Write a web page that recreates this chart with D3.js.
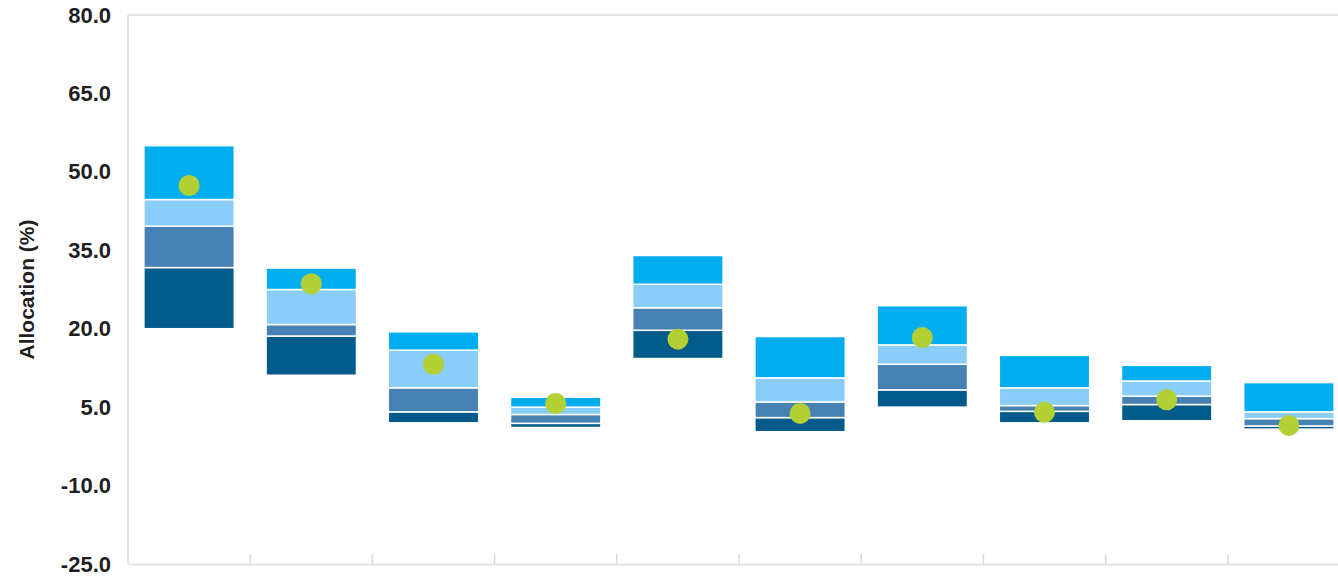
<!DOCTYPE html>
<html>
<head>
<meta charset="utf-8">
<script src="https://cdnjs.cloudflare.com/ajax/libs/d3/7.8.5/d3.min.js"></script>
<style>
body { margin: 0; background: #fff; }
.tick-label { font-family: "Liberation Sans", Arial, sans-serif; font-weight: bold; font-size: 22px; fill: #1f1f1f; }
.axis-title { font-family: "Liberation Sans", Arial, sans-serif; font-weight: bold; font-size: 21px; fill: #1f1f1f; }
</style>
</head>
<body>
<script>
var w = 1338;
var h = 577;

// data
var categories = ["1", "2", "3", "4", "5", "6", "7", "8", "9", "10"];
var p5  = [20.0, 11.1, 2.0, 1.1, 14.3, 0.3, 5.0, 2.0, 2.4, 0.8];
var p25 = [31.7, 18.6, 4.1, 1.9, 19.7, 3.0, 8.3, 4.2, 5.5, 1.4];
var p50 = [39.6, 20.8, 8.7, 3.6, 24.0, 6.0, 13.2, 5.3, 7.1, 2.8];
var p75 = [44.7, 27.5, 15.9, 5.0, 28.5, 10.6, 16.9, 8.7, 10.0, 4.1];
var p95 = [55.0, 31.6, 19.4, 6.9, 34.0, 18.5, 24.4, 14.9, 13.0, 9.7];
var current = [47.4, 28.6, 13.2, 5.7, 18.0, 3.8, 18.3, 4.0, 6.4, 1.5];
var yTicks = [80, 65, 50, 35, 20, 5, -10, -25];

var segColors = ["#035b8c", "#4781b3", "#89cdf8", "#00aeef"];
var dotColor = "#b3cf34";
var frameColor = "#dadada";

var margin = {left: 128, top: 15};
var plotW = 1222;
var plotH = 549;

var svg = d3.select("body")
	.append("svg")
	.attr("width", w)
	.attr("height", h);

var g = svg.append("g")
	.attr("transform", "translate(" + margin.left + "," + margin.top + ")");

var x = d3.scaleBand()
	.domain(categories)
	.range([0, plotW])
	.padding(0);

var y = d3.scaleLinear()
	.domain([-25, 80])
	.range([plotH, 0]);

// build rows of segments
var rows = categories.map(function(c, i){
	var bounds = [p5[i], p25[i], p50[i], p75[i], p95[i]];
	var segs = [];
	for (var k = 0; k < 4; k++) {
		segs.push({cat: c, lo: bounds[k], hi: bounds[k + 1], k: k});
	}
	return {cat: c, segs: segs, cur: current[i]};
});

// frame: top, left and bottom lines
g.append("line")
	.attr("x1", 0).attr("x2", plotW)
	.attr("y1", 0).attr("y2", 0)
	.attr("stroke", frameColor)
	.attr("stroke-width", 1.5);
g.append("line")
	.attr("x1", 0).attr("x2", 0)
	.attr("y1", 0).attr("y2", plotH)
	.attr("stroke", frameColor)
	.attr("stroke-width", 1.5);

var xAxis = d3.axisBottom(x).tickSize(0).tickFormat("");
var xg = g.append("g")
	.attr("transform", "translate(0," + plotH + ")")
	.call(xAxis);
xg.select(".domain")
	.attr("stroke", frameColor)
	.attr("stroke-width", 1.5);
xg.selectAll(".tick").remove();

// separator ticks between categories
g.selectAll(".sep")
	.data(categories.slice(1))
	.enter()
	.append("line")
	.attr("class", "sep")
	.attr("x1", function(d){ return x(d); })
	.attr("x2", function(d){ return x(d); })
	.attr("y1", plotH)
	.attr("y2", plotH - 10)
	.attr("stroke", frameColor)
	.attr("stroke-width", 1.5);

// y tick labels (plain hyphen for negatives, like the original)
var yAxis = d3.axisLeft(y)
	.tickValues(yTicks)
	.tickSize(0)
	.tickPadding(17)
	.tickFormat(function(d){ return d.toFixed(1); });
var yg = g.append("g").call(yAxis);
yg.select(".domain").remove();
yg.selectAll("text")
	.attr("class", "tick-label")
	.attr("fill", null);
yg.attr("font-size", null).attr("font-family", null);

svg.append("text")
	.attr("class", "axis-title")
	.attr("text-anchor", "middle")
	.attr("transform", "translate(34," + (margin.top + plotH / 2) + ") rotate(-90)")
	.text("Allocation (%)");

// bars
var barW = x.bandwidth() * 0.74;
var groups = g.selectAll(".bar")
	.data(rows)
	.enter()
	.append("g")
	.attr("class", "bar")
	.attr("transform", function(d){
		return "translate(" + (x(d.cat) + (x.bandwidth() - barW) / 2) + ",0)";
	});

groups.selectAll("rect")
	.data(function(d){ return d.segs; })
	.enter()
	.append("rect")
	.attr("x", 0)
	.attr("width", barW)
	.attr("y", function(d){ return y(d.hi); })
	.attr("height", function(d){ return y(d.lo) - y(d.hi); })
	.attr("fill", function(d){ return segColors[d.k]; })
	.attr("stroke", "#fff")
	.attr("stroke-width", 1.5);

groups.append("circle")
	.attr("cx", barW / 2)
	.attr("cy", function(d){ return y(d.cur); })
	.attr("r", 10.5)
	.attr("fill", dotColor);
</script>
</body>
</html>
